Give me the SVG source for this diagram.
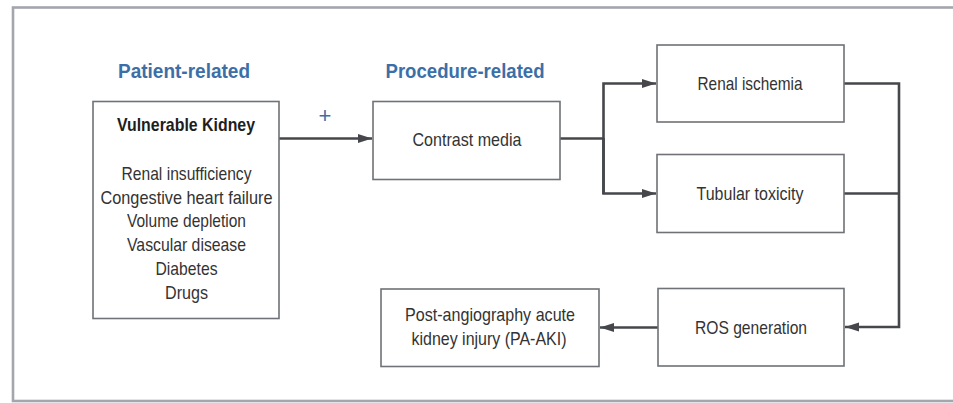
<svg xmlns="http://www.w3.org/2000/svg" width="953" height="403" viewBox="0 0 953 403">
<style>
.box{fill:#fff;stroke:#6f7276;stroke-width:1.6}
.t{font-family:"Liberation Sans",Arial,sans-serif;font-size:19px;fill:#333;text-anchor:middle}
.b{font-weight:bold;fill:#1e1e1e}
.h{font-family:"Liberation Sans",Arial,sans-serif;font-size:21px;font-weight:bold;fill:#3c6fa8;text-anchor:middle}
.c{fill:none;stroke:#45474b;stroke-width:2.6}
</style>
<defs>
<marker id="ah" markerUnits="userSpaceOnUse" markerWidth="16" markerHeight="12" refX="14" refY="6" orient="auto">
<path d="M0,1.5 L14,6 L0,10.5 Z" fill="#45474b"/>
</marker>
</defs>
<rect x="0" y="0" width="953" height="403" fill="#fff"/>
<rect x="13" y="7.5" width="960" height="393.5" fill="none" stroke="#a3a6ad" stroke-width="2.6"/>

<text class="h" x="184" y="78" textLength="132" lengthAdjust="spacingAndGlyphs">Patient-related</text>
<text class="h" x="465" y="78" textLength="159" lengthAdjust="spacingAndGlyphs">Procedure-related</text>
<text x="325" y="123" font-family="Liberation Sans, Arial, sans-serif" font-size="22" fill="#3c6fa8" text-anchor="middle">+</text>

<g id="connectors">
<path class="c" d="M279,138.5 H372" marker-end="url(#ah)"/>
<path class="c" d="M560,138.5 H603.5"/>
<path class="c" d="M603.5,194 V83.5 H656" marker-end="url(#ah)"/>
<path class="c" d="M603.5,138 V193.5 H656" marker-end="url(#ah)"/>
<path class="c" d="M844,83.5 H899 V327 H845" marker-end="url(#ah)"/>
<path class="c" d="M844,193.5 H899"/>
<path class="c" d="M658,327.5 H600" marker-end="url(#ah)"/>
</g>

<g id="vulnerable-kidney">
<rect class="box" x="93" y="101.5" width="186" height="217"/>
<text class="t b" x="186" y="131" textLength="138" lengthAdjust="spacingAndGlyphs">Vulnerable Kidney</text>
<text class="t" x="186.5" y="180" textLength="130" lengthAdjust="spacingAndGlyphs">Renal insufficiency</text>
<text class="t" x="186.5" y="203.5" textLength="172" lengthAdjust="spacingAndGlyphs">Congestive heart failure</text>
<text class="t" x="186.5" y="227" textLength="119" lengthAdjust="spacingAndGlyphs">Volume depletion</text>
<text class="t" x="186.5" y="251" textLength="119" lengthAdjust="spacingAndGlyphs">Vascular disease</text>
<text class="t" x="186.5" y="275" textLength="62" lengthAdjust="spacingAndGlyphs">Diabetes</text>
<text class="t" x="186.5" y="298.5" textLength="43" lengthAdjust="spacingAndGlyphs">Drugs</text>
</g>

<g id="contrast-media">
<rect class="box" x="373" y="101.5" width="187" height="78"/>
<text class="t" x="467" y="146" textLength="109" lengthAdjust="spacingAndGlyphs">Contrast media</text>
</g>

<g id="renal-ischemia">
<rect class="box" x="657" y="45" width="187" height="77"/>
<text class="t" x="750" y="90" textLength="105" lengthAdjust="spacingAndGlyphs">Renal ischemia</text>
</g>

<g id="tubular-toxicity">
<rect class="box" x="657" y="154.5" width="187" height="78"/>
<text class="t" x="750" y="199.5" textLength="107" lengthAdjust="spacingAndGlyphs">Tubular toxicity</text>
</g>

<g id="ros-generation">
<rect class="box" x="658" y="288.5" width="186" height="77.5"/>
<text class="t" x="751" y="333.5" textLength="112" lengthAdjust="spacingAndGlyphs">ROS generation</text>
</g>

<g id="pa-aki">
<rect class="box" x="381" y="289" width="218" height="77.5"/>
<text class="t" x="490" y="321" textLength="170" lengthAdjust="spacingAndGlyphs">Post-angiography acute</text>
<text class="t" x="489" y="345" textLength="155" lengthAdjust="spacingAndGlyphs">kidney injury (PA-AKI)</text>
</g>
</svg>
